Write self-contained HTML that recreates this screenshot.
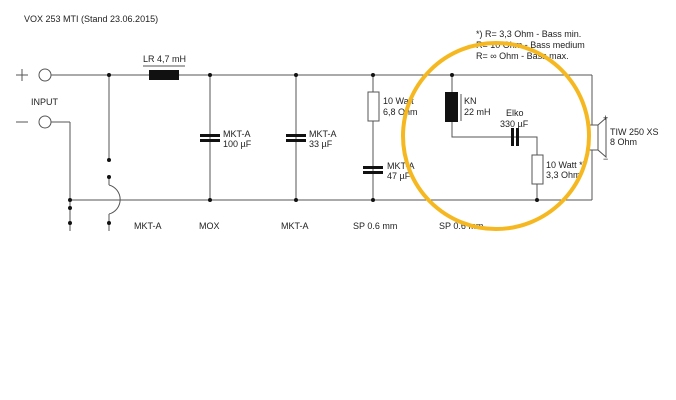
<!DOCTYPE html>
<html><head><style>body{margin:0;background:#fff}svg{display:block}text{font-family:"Liberation Sans",sans-serif;font-size:9px;fill:#222}</style></head><body>
<svg width="676" height="400" viewBox="0 0 676 400">
<text x="24" y="22">VOX 253 MTI (Stand 23.06.2015)</text>
<g stroke="#555" stroke-width="1" fill="none">
<line x1="51" y1="75" x2="592" y2="75"/>
<line x1="51" y1="122" x2="70" y2="122"/>
<line x1="70" y1="122" x2="70" y2="200"/>
<line x1="70" y1="200" x2="592" y2="200"/>
<line x1="592" y1="75" x2="592" y2="125"/><line x1="592" y1="150" x2="592" y2="200"/>
<line x1="70" y1="200" x2="70" y2="232"/>
<line x1="109" y1="75" x2="109" y2="160"/>
<line x1="109" y1="177" x2="109" y2="185"/>
<path d="M109 185 A15 15 0 0 1 109 214"/>
<line x1="109" y1="214" x2="109" y2="232"/>
<line x1="210" y1="75" x2="210" y2="200"/>
<line x1="296" y1="75" x2="296" y2="200"/>
<line x1="373" y1="75" x2="373" y2="200"/>
<path d="M452 75 V137 H537 V200"/>
<circle cx="45" cy="75" r="6"/><circle cx="45" cy="122" r="6"/>
<line x1="16" y1="75" x2="28" y2="75"/><line x1="22" y1="69" x2="22" y2="81"/>
<line x1="16" y1="122" x2="28" y2="122"/>
<line x1="143" y1="66" x2="185" y2="66"/>
<line x1="461" y1="94" x2="461" y2="121"/>
</g>
<g fill="#111">
<circle cx="109" cy="75" r="2"/><circle cx="210" cy="75" r="2"/><circle cx="296" cy="75" r="2"/><circle cx="373" cy="75" r="2"/><circle cx="452" cy="75" r="2"/>
<circle cx="70" cy="200" r="2"/><circle cx="70" cy="208" r="2"/><circle cx="70" cy="223" r="2"/>
<circle cx="109" cy="160" r="2"/><circle cx="109" cy="177" r="2"/><circle cx="109" cy="223" r="2"/>
<circle cx="210" cy="200" r="2"/><circle cx="296" cy="200" r="2"/><circle cx="373" cy="200" r="2"/><circle cx="537" cy="200" r="2"/>
<rect x="149" y="70" width="30" height="10"/>
<rect x="445" y="92" width="13" height="30"/>
<rect x="200" y="134" width="20" height="3"/><rect x="200" y="139" width="20" height="3"/>
<rect x="286" y="134" width="20" height="3"/><rect x="286" y="139" width="20" height="3"/>
<rect x="363" y="166" width="20" height="3"/><rect x="363" y="171" width="20" height="3"/>
<rect x="511" y="128" width="3" height="18"/><rect x="516" y="128" width="3" height="18"/>
</g>
<g fill="#fff" stroke="#555">
<rect x="368" y="92" width="11" height="29"/>
<rect x="532" y="155" width="11" height="29"/>
<rect x="589" y="125" width="9" height="25"/>
<polygon points="598,125 606,118 606,157 598,150"/>
</g>
<text x="143" y="62">LR 4,7 mH</text>
<text x="31" y="105">INPUT</text>
<text x="223" y="137">MKT-A</text><text x="223" y="147">100 µF</text>
<text x="309" y="137">MKT-A</text><text x="309" y="147">33 µF</text>
<text x="383" y="104">10 Watt</text><text x="383" y="115">6,8 Ohm</text>
<text x="387" y="169">MKT-A</text><text x="387" y="179">47 µF</text>
<text x="464" y="104">KN</text><text x="464" y="115">22 mH</text>
<text x="506" y="116">Elko</text><text x="500" y="127">330 µF</text>
<text x="546" y="168">10 Watt *)</text><text x="546" y="178">3,3 Ohm</text>
<text x="603" y="121" font-size="11">+</text><text x="603" y="162" font-size="11">−</text>
<text x="610" y="135">TIW 250 XS</text><text x="610" y="145">8 Ohm</text>
<text x="476" y="37">*) R= 3,3 Ohm - Bass min.</text>
<text x="476" y="48">R= 10 Ohm - Bass medium</text>
<text x="476" y="59">R=     ∞ Ohm - Bass max.</text>
<text x="134" y="229">MKT-A</text><text x="199" y="229">MOX</text><text x="281" y="229">MKT-A</text>
<text x="353" y="229">SP 0.6 mm</text><text x="439" y="229">SP 0.6 mm</text>
<rect x="0" y="231" width="676" height="169" fill="#fff"/>
<circle cx="496" cy="136" r="93" fill="none" stroke="#f5b820" stroke-width="4"/>
</svg>
</body></html>
